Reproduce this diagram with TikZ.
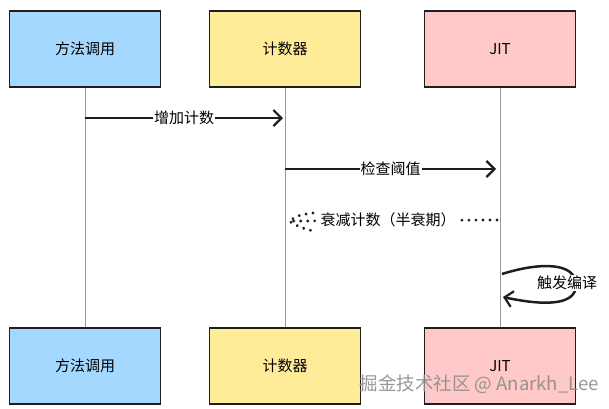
\documentclass[tikz,border=0pt]{standalone}
\usepackage{fontspec}
\setmainfont{Noto Sans CJK SC}
\newfontfamily\wmfont{Noto Sans CJK SC}
\usetikzlibrary{arrows.meta,calc}
\definecolor{cblue}{HTML}{A5D8FF}
\definecolor{cyellow}{HTML}{FFEC99}
\definecolor{cpink}{HTML}{FFC9C9}
\definecolor{cline}{HTML}{1E1E1E}
\tikzset{
  actor/.style={draw=cline, line width=1.8pt, minimum width=151pt, minimum height=76pt, inner sep=0pt, font=\fontsize{15}{17}\selectfont},
  life/.style={draw=black!40, line width=1pt},
  msg/.style={draw=cline, line width=2.5pt, -{Straight Barb[length=8pt,width=16pt,line width=2.2pt]}},
  lbl/.style={fill=white, inner sep=1pt, font=\fontsize{15}{17}\selectfont},
  ret/.style={draw=cline, line width=3.2pt, dash pattern=on 0.01pt off 7pt, line cap=round},
}
\begin{document}
\begin{tikzpicture}[x=1pt,y=-1pt]
\useasboundingbox (0,0) rectangle (609,408);
% top actors
\node[actor, fill=cblue]   (a1) at (85,49)  {方法调用};
\node[actor, fill=cyellow] (a2) at (285,49) {计数器};
\node[actor, fill=cpink]   (a3) at (500,49) {JIT};
% bottom actors
\node[actor, fill=cblue]   (b1) at (85,366)  {方法调用};
\node[actor, fill=cyellow] (b2) at (285,366) {计数器};
\node[actor, fill=cpink]   (b3) at (500,366) {JIT};
% lifelines
\draw[life] (a1.south) -- (b1.north);
\draw[life] (a2.south) -- (b2.north);
\draw[life] (a3.south) -- (b3.north);
% coordinates on lifelines
\coordinate (m1s) at (85,118);
\coordinate (m1e) at (283,118);
\coordinate (m2s) at (285,169);
\coordinate (m2e) at (496,169);
\coordinate (m3s) at (497,220);
\coordinate (m3e) at (289,221);
\coordinate (l1) at (502,274);
\coordinate (l2) at (503,297);
% messages
\draw[msg] (m1s) -- node[lbl] {增加计数} (m1e);
\draw[msg] (m2s) -- node[lbl] {检查阈值} (m2e);
\draw[ret] (m3s) -- (m3e);
\draw[ret] ($(m3e)+(24,-8)$) .. controls ($(m3e)+(10,-6)$) .. (m3e) .. controls ($(m3e)+(10,6)$) .. ($(m3e)+(24,10)$);
\node[lbl, inner xsep=4pt] (t3) at (388,220) {衰减计数（半衰期）};
% self loop
\draw[msg] (l1) .. controls (540,262) and (576,262) .. (576,285)
  .. controls (576,307) and (540,305) .. (l2);
\node[lbl] (t4) at (567,283) {触发编译};
% watermark
\node[font=\wmfont\fontsize{18.5}{20}\selectfont, text=black!45, opacity=0.9, anchor=east, inner sep=0pt] (wm) at (599,384) {掘金技术社区 @ Anarkh\_Lee};
\end{tikzpicture}
\end{document}
